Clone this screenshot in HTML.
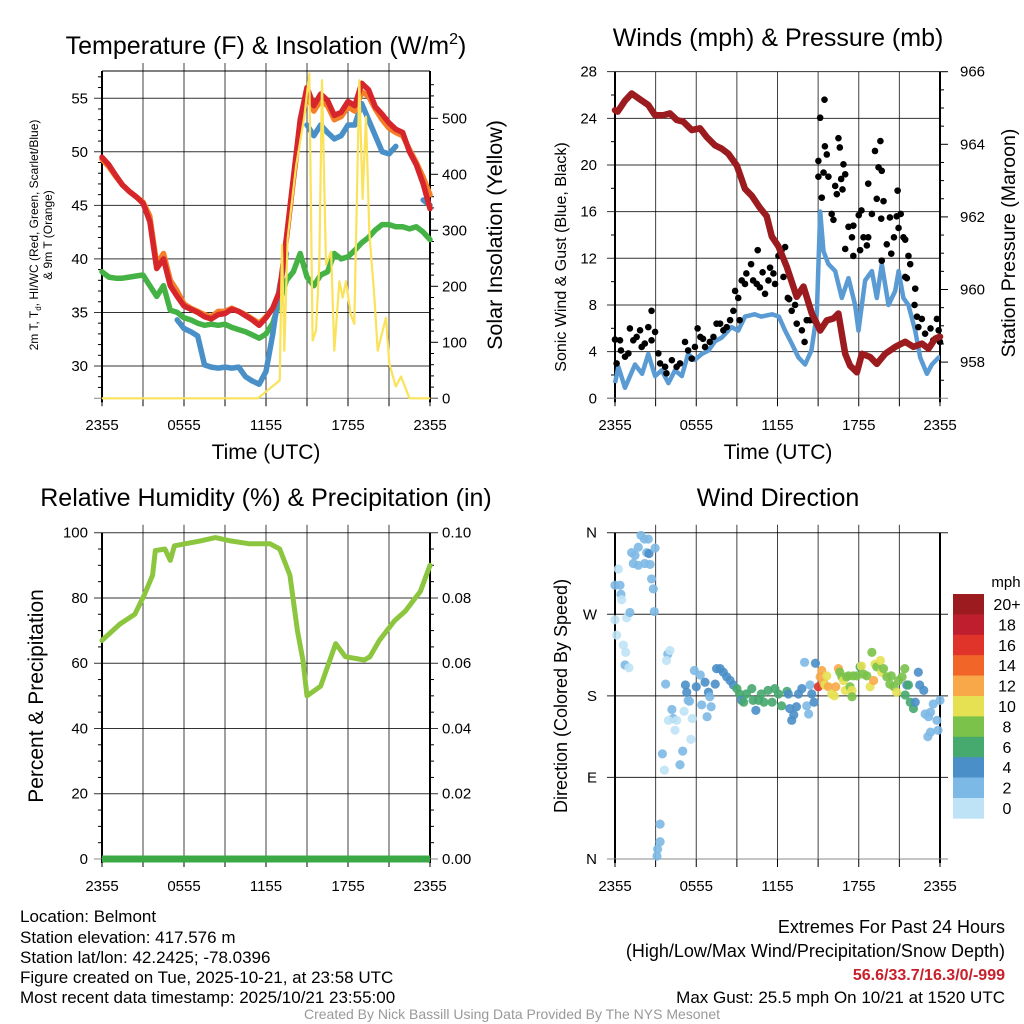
<!DOCTYPE html>
<html><head><meta charset="utf-8"><style>
html,body{margin:0;padding:0;background:#fff;}
svg{display:block;font-family:"Liberation Sans",Arial,sans-serif;}
</style></head><body>
<svg id="fig" width="1024" height="1024" viewBox="0 0 1024 1024" xmlns="http://www.w3.org/2000/svg">
<rect x="0" y="0" width="1024" height="1024" fill="#fff"/>
<g id="p1"></g>
<g id="p2"></g>
<g id="p3"></g>
<g id="p4"></g>
<g font-size="25" text-anchor="middle" fill="#000">
<text x="266" y="54">Temperature (F) &amp; Insolation (W/m<tspan font-size="16" dy="-10">2</tspan><tspan dy="10">)</tspan></text>
<text x="778" y="46">Winds (mph) &amp; Pressure (mb)</text>
<text x="266" y="506">Relative Humidity (%) &amp; Precipitation (in)</text>
<text x="778" y="506">Wind Direction</text>
</g>
<g fill="#000" text-anchor="middle">
<text x="266" y="459" font-size="21">Time (UTC)</text>
<text x="778" y="459" font-size="21">Time (UTC)</text>
<text font-size="12" transform="translate(40,235) rotate(-90)"><tspan x="0" dy="-2">2m T, T<tspan font-size="8" dy="3">d</tspan><tspan dy="-3">, HI/WC (Red, Green, Scarlet/Blue)</tspan></tspan><tspan x="0" dy="14">&amp; 9m T (Orange)</tspan></text>
<text font-size="21.5" transform="translate(502,235) rotate(-90)">Solar Insolation (Yellow)</text>
<text font-size="16" transform="translate(566,257) rotate(-90)">Sonic Wind &amp; Gust (Blue, Black)</text>
<text font-size="19.5" transform="translate(1015,243) rotate(-90)">Station Pressure (Maroon)</text>
<text font-size="21" transform="translate(43,696) rotate(-90)">Percent &amp; Precipitation</text>
<text font-size="18" transform="translate(567,696) rotate(-90)">Direction (Colored By Speed)</text>
</g>
<g font-size="17" fill="#000">
<text x="20" y="922">Location: Belmont</text>
<text x="20" y="943">Station elevation: 417.576 m</text>
<text x="20" y="963">Station lat/lon: 42.2425; -78.0396</text>
<text x="20" y="983">Figure created on Tue, 2025-10-21, at 23:58 UTC</text>
<text x="20" y="1003">Most recent data timestamp: 2025/10/21 23:55:00</text>
</g>
<g fill="#000" text-anchor="end">
<text x="1005" y="933" font-size="18">Extremes For Past 24 Hours</text>
<text x="1005" y="957" font-size="18">(High/Low/Max Wind/Precipitation/Snow Depth)</text>
<text x="1005" y="980" font-size="16" fill="#c8202a" font-weight="bold">56.6/33.7/16.3/0/-999</text>
<text x="1005" y="1003" font-size="17">Max Gust: 25.5 mph On 10/21 at 1520 UTC</text>
</g>
<text x="512" y="1019" font-size="14" fill="#999" text-anchor="middle">Created By Nick Bassill Using Data Provided By The NYS Mesonet</text>
</svg>
<script>
// ---------- data ----------
const halfHours = [0,0.5,1,1.5,2,2.5,3,3.5,4,4.5,5,5.5,6,6.5,7,7.5,8,8.5,9,9.5,10,10.5,11,11.5,12,12.5,13,13.5,14,14.5,15,15.5,16,16.5,17,17.5,18,18.5,19,19.5,20,20.5,21,21.5,22,22.5,23,23.5,24];
const tempRed = [49.5,48.8,47.8,46.9,46.3,45.8,45.2,43.5,39.1,40,37.5,36.5,35.6,35.3,35,34.6,34.4,34.8,34.9,35.3,35.1,34.7,34.3,33.8,34.5,35.4,37,42,47.5,53,56,54.3,55.4,54.8,53.4,53.7,54.7,54.3,56.4,55.8,54.2,53.5,52.7,52.1,51.8,50,48.8,47,44.7];
const temp9m = [49.3,48.6,47.7,46.9,46.3,45.8,45.3,44,39.5,40.5,38,37,35.8,35.4,35.1,34.8,34.6,35.1,35.1,35.4,35.1,34.8,34.4,34,34.6,35.4,37,42,47.3,52.5,55.3,53.8,54.8,54.3,53,53.3,54.2,53.8,55.6,55.2,54,53,52.2,51.8,51.5,50.2,49,47.6,46];
const heatIndex = [null,null,null,null,null,44,null,null,null,null,null,34.3,33.5,33.2,32.8,30.1,29.9,29.8,29.9,29.8,29.9,29,28.6,28.3,29.5,33,37.5,40.5,null,null,52.5,51.5,52.5,51.8,51.2,51.5,52.5,52.5,54.5,53,51.5,50,49.8,50.5,null,null,null,45.5,45];
const dewpoint = [38.8,38.3,38.2,38.2,38.3,38.4,38.5,37.5,36.5,37.5,35.2,35,34.5,34.3,34,33.8,33.9,33.8,33.9,33.6,33.4,33.2,32.9,32.6,33,34,36,38,38.8,40.5,38.3,37.5,38.5,38.8,40.5,40,40.2,40.8,41.5,42,42.7,43.2,43.2,43,43,42.8,43,42.5,41.8];
const solarHours = [0,11.4,13,13.17,13.34,13.59,14.2,14.8,15.17,15.41,15.66,15.9,16.1,16.39,16.76,17.0,17.37,17.61,17.85,18.2,18.46,18.83,19.07,19.32,19.56,19.93,20.17,20.54,20.78,21.02,21.5,21.88,22.5,24];
const solarVals = [0,0,32,274,85,286,415,503,580,103,121,239,568,239,262,85,209,180,209,150,133,568,356,503,297,180,85,121,144,62,21,39,0,0];
const tempTicks = [30,35,40,45,50,55];
const solarTicks = [0,100,200,300,400,500];
const timeTickLabels = ["2355","0555","1155","1755","2355"];

const pressHours = [0,0.2,0.74,1.23,1.72,2.46,2.96,3.57,4.06,4.56,5.05,5.67,6.28,6.77,7.39,7.88,8.37,9,9.6,10.1,10.7,11.2,11.58,12.07,12.68,13.42,13.92,14.53,15.15,15.64,16.13,16.5,17,17.36,17.86,18.23,18.84,19.33,19.95,20.69,21.43,22.04,22.66,23.15,23.65,24];
const pressVals = [964.94,964.9,965.2,965.4,965.27,965.08,964.8,964.8,964.85,964.67,964.62,964.39,964.44,964.2,963.97,963.88,963.74,963.41,962.77,962.58,962.25,962.02,961.46,961.19,960.63,959.8,960.08,959.34,958.87,959.15,959.2,959.34,958.23,957.9,957.72,958.23,958.14,957.95,958.23,958.42,958.56,958.42,958.51,958.37,958.65,958.7];
const windHours = [0,0.25,0.74,1.48,2,2.46,2.96,3.45,3.94,4.43,4.93,5.4,5.9,6.4,6.9,7.4,7.88,8.6,9.1,9.6,10.3,10.8,11.6,12.1,12.56,13.05,13.55,14.04,14.5,14.9,15.15,15.4,15.76,16.26,16.75,17.24,17.73,17.98,18.47,18.97,19.33,19.7,20.2,20.69,20.94,21.3,21.67,22.17,22.54,23.03,23.4,23.9,24];
const windVals = [1.3,2.7,0.9,2.9,2.1,3.8,1.9,2.4,1.3,2.4,1.9,3.8,3.3,3.8,4.1,4.9,5.2,6.1,5.8,7,7.2,7,7.2,7,5.8,4.7,3.5,2.9,4.1,7.2,16,12.6,11.5,10.9,8.6,10.3,8,5.8,10.1,10.9,8.6,11.5,8,9.2,10.9,8.6,8,5.8,3.5,2.1,2.9,3.5,3.5];
const gustHours = [0,0.37,0.12,0.44,0.74,0.99,1.1,1.35,1.6,1.85,1.97,2.2,2.46,2.7,2.96,2.7,3.2,3.33,3.7,3.8,4.2,4.55,4.8,5.17,5.4,5.67,5.9,6.1,6.3,6.5,6.65,7,7.27,7.5,7.76,8,8.25,8.5,8.74,8.87,9.1,9.2,9.36,9.6,9.7,10.05,10.2,10.47,10.54,10.7,10.9,11.08,11.33,11.45,11.7,11.82,12.07,12.3,12.56,12.44,12.76,12.86,13.05,13.3,13.42,13.42,13.8,14,14.16,14.4,14.65,15.02,15.15,15.47,15.02,15.27,15.4,15.5,15.64,15.76,16,16.13,16.26,16.38,16.5,16.6,16.7,16.8,16.87,17,17,17.24,17.5,17.6,17.6,18,18.2,18.1,18.35,18.6,18.7,18.7,18.97,19.2,19.33,19.6,19.46,19.7,19.83,19.66,19.7,20.07,20.3,20.4,20.6,20.8,20.87,20.94,21.1,21.3,21.43,21.43,21.67,21.55,21.8,22.17,22.12,22.3,22.4,22.66,22.9,23.3,23.5,23.77,23.9,24];
const gustVals = [5.04,4.97,2.99,4.1,3.57,3.85,5.99,4.97,5.26,5.83,4.4,4.69,6.1,7.5,5.69,4.97,3.85,2.99,2.7,2.14,3.27,2.7,2.99,4.83,4.1,3.4,4.4,5.99,5.26,5.1,4.4,4.83,5.26,6.4,6.4,5.83,6.1,6.7,7.5,9.2,8.6,6.7,10.1,9.8,10.7,11.5,10.1,9.8,12.7,9.5,10.8,8.96,10.1,11.2,10.7,9.8,12.2,12.7,12.96,10.4,8.6,8.5,7.5,8,8.96,6.4,5.83,4.83,6.7,6.7,6.7,20.35,24.05,25.6,19,17.2,19.35,21.6,20.9,19,15.8,15.3,18.2,17.5,22.3,21.5,18.8,17.9,20.06,19.2,12.8,14.7,13.8,14.8,12.2,15.7,16.1,12.7,13.8,13.1,13.8,18.4,15.8,21.2,17.1,22.05,19.8,19.5,16.9,15.4,11.8,13.2,15.5,12.4,13.8,15.6,17.8,14.6,15.8,13.8,13.6,10.4,12.2,10.3,11.5,9.4,8,7,6.1,6.8,5.54,5.99,4.97,6.8,5.83,4.83];
const windTicks = [0,4,8,12,16,20,24,28];
const pressTicks = [958,960,962,964,966];

const rhHours = [0,1.3,2.4,3.1,3.7,3.9,4.6,5,5.3,7.2,8.3,9.4,10.8,12.3,13,13.75,14.3,14.7,15,16,17.1,17.8,19.2,19.6,20.3,21.4,22.2,23.3,24];
const rhVals = [67,72,75,81,87,94.5,95,91.5,96,97.5,98.5,97.5,96.6,96.6,95,87,70,61,50,53,66,62,61,62,67,73,76,82,90];
const precipHours = [0,24];
const precipVals = [0,0];
const rhTicks = [0,20,40,60,80,100];
const precipTicks = ["0.00","0.02","0.04","0.06","0.08","0.10"];

const dirHours = [0,0.25,0.37,0.44,0.49,0,0.12,0.86,1.1,0.62,0.79,0.74,1.03,1.23,1.48,1.72,1.92,2.17,2.46,2.34,2.51,2.96,1.35,1.72,2.2,2.59,2.7,2.83,2.9,3.74,3.9,4.06,3.8,4.2,4.3,4.55,3.94,4.43,3.5,3.65,4.8,5,5.1,5.6,5.7,5.4,5.5,5.2,5.3,5.86,6,6.3,6.4,6.65,6.9,7,7.1,6.8,7.4,7.5,7.76,8,8.25,8.5,8.74,9,9.2,9.36,9.5,9.7,10.1,10.2,10.4,10.6,10.8,11,11.3,11.6,11.8,12.07,12.3,12.7,12.8,12.9,13.05,13.2,13.4,13.55,13.8,14,14.16,14.3,14.4,14.53,14.7,14.8,15.02,15.15,15.27,15.4,15.5,15.64,15.76,16,16.2,16.3,16.5,16.6,16.75,16.87,17,17.1,17.24,17.36,17.5,17.5,17.6,17.86,18.1,18.2,18.35,18.6,18.84,18.97,19.1,19.2,19.33,19.6,19.7,19.83,20.07,20.3,20.4,20.6,20.8,20.94,21.2,21.4,21.43,21.55,21.67,21.8,22.04,22.17,22.4,22.5,22.8,22.9,23.15,23.3,23.5,23.77,23.85,23.3,23.1,24,3.33,3.33,3.15,3.1];
const dirDeg = [302,320,302,292,286,264,247,266,272,236,228,214,211,338,335,344,357,353,353,338,337,343,326,324,326,325,309,298,273,193,226,230,219,165,155,153,153,142,116,98,104,119,163,132,155,175,174,192,184,208,190,203,170,195,184,179,168,157,193,210,210,206,201,197,192,188,182,175,173,182,188,175,164,175,182,173,186,173,188,182,169,185,182,166,153,159,168,182,188,217,169,160,192,182,173,216,190,201,208,195,192,202,190,182,180,190,210,206,201,197,186,201,202,190,186,179,202,202,212,213,204,202,190,228,197,215,212,219,206,210,201,193,202,190,184,197,201,210,181,192,192,173,166,173,206,192,186,160,157,162,171,153,142,140,135,175,38.5,19,11,3.3];
const dirSpeed = [2,0,2,2,0,0,0,0,2,0,0,2,0,2,2,2,2,2,2,2,4,2,2,2,2,2,2,2,2,2,2,0,0,2,2,0,0,0,2,0,2,2,0,0,0,2,2,4,4,2,4,2,2,4,4,2,2,2,4,4,4,4,4,4,4,6,6,4,6,6,6,6,4,6,6,6,6,6,6,6,6,6,4,4,4,4,4,4,4,2,2,2,2,4,4,4,16,12,12,12,10,10,12,10,10,12,12,8,8,10,10,8,8,8,10,8,8,8,6,10,8,8,10,8,12,10,8,10,10,8,8,8,8,8,10,8,8,8,6,4,6,6,6,4,4,4,4,2,2,2,2,2,2,2,2,2,2,2,2,2];
const dirTicks = [0,90,180,270,360];
const dirTickLabels = ["N","E","S","W","N"];
const speedBins = [0,2,4,6,8,10,12,14,16,18,20];
const speedLabels = ["0","2","4","6","8","10","12","14","16","18","20+"];
const speedColors = ["#bfe3f6","#7db9e6","#4a8fc8","#46a96e","#7ac24a","#e6e153","#f8a848","#f26529","#e0342b","#be1e2d","#9b1b1e"];

// ---------- helpers ----------
const NS = "http://www.w3.org/2000/svg";
function mk(parent, tag, attrs, txt){
  const e = document.createElementNS(NS, tag);
  for (const k in attrs) e.setAttribute(k, attrs[k]);
  if (txt !== undefined) e.textContent = txt;
  parent.appendChild(e);
  return e;
}
function linePath(xs, ys, fx, fy){
  let d = "", pen = false;
  for (let i=0;i<xs.length;i++){
    if (ys[i]===null || ys[i]===undefined){ pen=false; continue; }
    d += (pen ? "L" : "M") + fx(xs[i]).toFixed(1) + "," + fy(ys[i]).toFixed(1);
    pen = true;
  }
  return d;
}
function frame(g, x0, x1, y0, y1, name){
  const f = mk(g, "g", {});
  
  
  mk(f, "line", {x1:x0,y1:y0-8,x2:x0,y2:y1+4,stroke:"#000","stroke-width":2});
  mk(f, "line", {x1:x1,y1:y0-8,x2:x1,y2:y1+4,stroke:"#000","stroke-width":2});
  mk(f, "line", {x1:x0-8,y1:y1,x2:x1+8,y2:y1,stroke:"#888","stroke-width":1});
}
function timeAxis(g, fx, y1, ylab, name){
  const ax = mk(g, "g", {});
  
  
  for (let h=0; h<=24; h+=3){
    mk(ax, "line", {x1:fx(h),y1:y1,x2:fx(h),y2:y1+8,stroke:"#000","stroke-width":1});
  }
  timeTickLabels.forEach((l,i)=>{
    const t = mk(ax, "text", {x:fx(i*6),y:ylab,"font-size":15,"text-anchor":"middle"}, l);
    
    
  });
}
function vGrid(g, fx, y0, y1){
  for (let h=3; h<24; h+=3){
    mk(g, "line", {x1:fx(h),y1:y0-8,x2:fx(h),y2:y1,stroke:"#000","stroke-width":1,"stroke-opacity":0.75});
  }
}

// ---------- Panel 1 ----------
(function(){
  const g = document.getElementById("p1");
  const X0=102, X1=430, Y0=71, Y1=398.3;
  const fx = h => X0 + h*(X1-X0)/24;
  const fy = v => 366 - (v-30)*10.71;
  const fs = w => 398.3 - w*0.56;
  vGrid(g, fx, Y0, Y1);
  mk(g,"line",{x1:X0,y1:Y0,x2:X1,y2:Y0,stroke:"#000","stroke-width":1});
  tempTicks.forEach(v=>{
    mk(g,"line",{x1:X0-8,y1:fy(v),x2:X1,y2:fy(v),stroke:"#000","stroke-width":1,"stroke-opacity":0.8});
    const t = mk(g,"text",{x:X0-14,y:fy(v)+5,"font-size":15,"text-anchor":"end"}, String(v));
    
    
  });
  for (let v=28; v<=57; v++) if (v%5) mk(g,"line",{x1:X0-4,y1:fy(v),x2:X0,y2:fy(v),stroke:"#000"});
  solarTicks.forEach(w=>{
    mk(g,"line",{x1:X1,y1:fs(w),x2:X1+8,y2:fs(w),stroke:"#000"});
    const t = mk(g,"text",{x:X1+12,y:fs(w)+5,"font-size":15}, String(w));
    
    
  });
  for (let w=20; w<580; w+=20) if (w%100) mk(g,"line",{x1:X1,y1:fs(w),x2:X1+4,y2:fs(w),stroke:"#000"});
  frame(g, X0, X1, Y0+8, Y1, "temp");
  timeAxis(g, fx, Y1, 430, "temp-x-axis");
  const series = [
    [dewpoint,"#45b245","dewpoint-line"],
    [heatIndex,"#4a90c8","heat-index-line"],
    [temp9m,"#f57f29","temp-9m-line"],
    [tempRed,"#d7262b","temp-2m-line"]
  ];
  series.forEach(s=>{
    const p = mk(g,"path",{d:linePath(halfHours,s[0],fx,fy),fill:"none",stroke:s[1],"stroke-width":5.5,"stroke-linejoin":"round","stroke-linecap":"round"});
    
    
  });
  const sp = mk(g,"path",{d:linePath(solarHours,solarVals,fx,fs),fill:"none",stroke:"#fae25a","stroke-width":2.2,"stroke-linejoin":"round"});
  
  
})();

// ---------- Panel 2 ----------
(function(){
  const g = document.getElementById("p2");
  const X0=615, X1=940, Y0=71.7, Y1=398.3;
  const fx = h => X0 + h*(X1-X0)/24;
  const fy = v => Y1 - v*11.666;
  const fp = p => Y0 + (966-p)*36.3;
  vGrid(g, fx, Y0+8, Y1);
  windTicks.forEach(v=>{
    mk(g,"line",{x1:X0-8,y1:fy(v),x2:X1,y2:fy(v),stroke:"#000","stroke-width":1,"stroke-opacity":0.8});
    const t = mk(g,"text",{x:X0-18,y:fy(v)+5,"font-size":15,"text-anchor":"end"}, String(v));
    
    
  });
  for (let v=2; v<28; v+=4) mk(g,"line",{x1:X0-4,y1:fy(v),x2:X0,y2:fy(v),stroke:"#000"});
  pressTicks.forEach(p=>{
    mk(g,"line",{x1:X1,y1:fp(p),x2:X1+8,y2:fp(p),stroke:"#000"});
    const t = mk(g,"text",{x:X1+20,y:fp(p)+5,"font-size":15}, String(p));
    
    
  });
  for (let p=957.5; p<966; p+=0.5) if (p%2) mk(g,"line",{x1:X1,y1:fp(p),x2:X1+4,y2:fp(p),stroke:"#000"});
  frame(g, X0, X1, Y0+8, Y1, "wind");
  timeAxis(g, fx, Y1, 430, "wind-x-axis");
  const w = mk(g,"path",{d:linePath(windHours,windVals,fx,fy),fill:"none",stroke:"#5a9bd4","stroke-width":4.5,"stroke-linejoin":"round"});
  
  
  const gg = mk(g,"g",{});
  
  
  gustHours.forEach((h,i)=>{
    const c = mk(gg,"circle",{cx:fx(h),cy:fy(gustVals[i]),r:3.3,fill:"#000"});
    
    
  });
  const p = mk(g,"path",{d:linePath(pressHours,pressVals,fx,fp),fill:"none",stroke:"#9b1b1e","stroke-width":6.5,"stroke-linejoin":"round","stroke-linecap":"round"});
  
  
})();

// ---------- Panel 3 ----------
(function(){
  const g = document.getElementById("p3");
  const X0=102, X1=430, Y0=532.7, Y1=859;
  const fx = h => X0 + h*(X1-X0)/24;
  const fy = v => Y1 - v*3.263;
  const fr = v => Y1 - v*3263;
  vGrid(g, fx, Y0, Y1);
  rhTicks.forEach((v,i)=>{
    mk(g,"line",{x1:X0-8,y1:fy(v),x2:X1+8,y2:fy(v),stroke:"#000","stroke-width":1,"stroke-opacity":0.8});
    const t = mk(g,"text",{x:X0-14,y:fy(v)+5,"font-size":15,"text-anchor":"end"}, String(v));
    
    
    const t2 = mk(g,"text",{x:X1+12,y:fy(v)+5,"font-size":15}, precipTicks[i]);
    
    
  });
  for (let v=5; v<100; v+=5) if (v%20) { mk(g,"line",{x1:X0-4,y1:fy(v),x2:X0,y2:fy(v),stroke:"#000"}); mk(g,"line",{x1:X1,y1:fy(v),x2:X1+4,y2:fy(v),stroke:"#000"}); }
  frame(g, X0, X1, Y0+8, Y1, "humidity");
  timeAxis(g, fx, Y1, 891, "humidity-x-axis");
  const r = mk(g,"path",{d:linePath(rhHours,rhVals,fx,fy),fill:"none",stroke:"#8cc63f","stroke-width":5,"stroke-linejoin":"round","stroke-linecap":"round"});
  
  
  const pr = mk(g,"path",{d:linePath(precipHours,precipVals,fx,fr),fill:"none",stroke:"#3aa845","stroke-width":7});
  
  
})();

// ---------- Panel 4 ----------
(function(){
  const g = document.getElementById("p4");
  const X0=615, X1=940, Y0=532.7, Y1=859;
  const fx = h => X0 + h*(X1-X0)/24;
  const fy = d => Y1 - d*(Y1-Y0)/360;
  vGrid(g, fx, Y0, Y1);
  dirTicks.forEach((d,i)=>{
    mk(g,"line",{x1:X0-8,y1:fy(d),x2:X1+8,y2:fy(d),stroke:"#000","stroke-width":1,"stroke-opacity":0.85});
    const t = mk(g,"text",{x:X0-18,y:fy(d)+5,"font-size":15,"text-anchor":"end"}, dirTickLabels[i]);
    
    
  });
  frame(g, X0, X1, Y0+8, Y1, "direction");
  timeAxis(g, fx, Y1, 891, "direction-x-axis");
  const pts = mk(g,"g",{"fill-opacity":0.9});
  
  
  dirHours.forEach((h,i)=>{
    let bi = speedBins.indexOf(dirSpeed[i]); if (bi<0) bi = 0;
    const c = mk(pts,"circle",{cx:fx(h),cy:fy(dirDeg[i]),r:4.6,fill:speedColors[bi]});
    
    
  });
  const cb = mk(g,"g",{});
  
  
  const ct = mk(cb,"text",{x:1006,y:587,"font-size":15,"text-anchor":"middle"},"mph");
  
  
  const n = speedBins.length, bh = 20.4, top = 594;
  for (let i=0;i<n;i++){
    const k = n-1-i;
    const r = mk(cb,"rect",{x:953,y:top+i*bh,width:31,height:bh+0.3,fill:speedColors[k]});
    
    
    const t = mk(cb,"text",{x:1007,y:top+i*bh+16,"font-size":16,"text-anchor":"middle"}, speedLabels[k]);
    
    
  }
})();
</script>
</body></html>
